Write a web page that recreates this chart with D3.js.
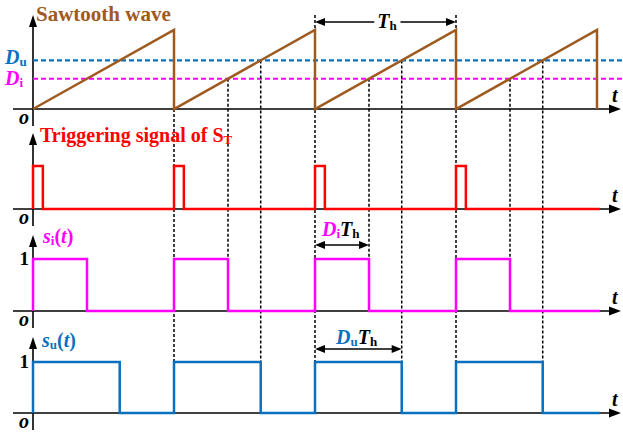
<!DOCTYPE html>
<html lang="en">
<head>
<meta charset="utf-8">
<title>Sawtooth PWM timing</title>
<script src="https://cdn.jsdelivr.net/npm/d3@7"></script>
<style>
  body { margin: 0; background: #fff; }
  text { font-family: "Liberation Serif", "Times New Roman", serif; font-weight: bold; }
</style>
</head>
<body>
<div id="vis"></div>
<script>
// data (time in units of the period Th)
var periodStarts = [0, 1, 2, 3];
var tEnd = 4.02;
var dutyI = 0.383;
var dutyU = 0.615;
var trigWidth = 0.07;
var sawT = [0, 1, 1, 2, 2, 3, 3, 4, 4];
var sawV = [0, 1, 0, 1, 0, 1, 0, 1, 0];

var brown = "#9E5A1F", blue = "#0A70BE", magenta = "#FF00FF", red = "#FF0000";

var svg = d3.select("#vis").append("svg").attr("width", 623).attr("height", 436)
  .attr("font-family", "Liberation Serif, serif");

var x = d3.scaleLinear().domain([0, 4]).range([33, 597]);

// one panel per signal: baseline, level 1, arrow tip
var panels = [
  { y0: 109, y1: 30, top: 15 },
  { y0: 209, y1: 166, top: 133 },
  { y0: 311, y1: 259, top: 235 },
  { y0: 413, y1: 362, top: 337 }
];
panels.forEach(function(p) {
  p.y = d3.scaleLinear().domain([0, 1]).range([p.y0, p.y1]);
});

var line = function(p) {
  return d3.line().x(function(d) { return x(d[0]); }).y(function(d) { return p.y(d[1]); });
};

function stepPoints(duty) {
  var pts = [[0, 0]];
  periodStarts.forEach(function(s) {
    pts.push([s, 0], [s, 1], [s + duty, 1], [s + duty, 0]);
  });
  pts.push([tEnd, 0]);
  return pts;
}

// axes
panels.forEach(function(p) {
  svg.append("line").attr("x1", 13).attr("x2", 612).attr("y1", p.y0).attr("y2", p.y0)
    .attr("stroke", "#000").attr("stroke-width", 1.6);
  svg.append("path").attr("d", "M621," + p.y0 + " L609," + (p.y0 - 4.5) + " L609," + (p.y0 + 4.5) + "Z")
    .attr("fill", "#000");
  svg.append("line").attr("x1", x(0)).attr("x2", x(0)).attr("y1", p.top + 8).attr("y2", p.y0 + 17)
    .attr("stroke", "#000").attr("stroke-width", 1.6);
  svg.append("path").attr("d", "M" + x(0) + "," + p.top + " L" + (x(0) - 4) + "," + (p.top + 12) + " L" + (x(0) + 4) + "," + (p.top + 12) + "Z")
    .attr("fill", "#000");
  svg.append("text").attr("x", 612).attr("y", p.y0 - 7).attr("font-size", 20).attr("font-style", "italic").text("t");
  svg.append("text").attr("x", 19).attr("y", p.y0 + 15).attr("font-size", 20).attr("font-style", "italic").text("o");
});
[2, 3].forEach(function(i) {
  svg.append("text").attr("x", 29).attr("y", panels[i].y1 + 6).attr("text-anchor", "end")
    .attr("font-size", 19).text("1");
});

// threshold levels
var p0 = panels[0];
[[dutyU, blue], [dutyI, magenta]].forEach(function(l) {
  svg.append("line").attr("x1", x(0)).attr("x2", 623).attr("y1", p0.y(l[0])).attr("y2", p0.y(l[0]))
    .attr("stroke", l[1]).attr("stroke-width", 2.2).attr("stroke-dasharray", "5,3");
});

// dotted guides
var bottom = panels[3].y1;
var guide = function(t, yTop, yBot) {
  svg.append("line").attr("x1", x(t)).attr("x2", x(t)).attr("y1", yTop).attr("y2", yBot)
    .attr("stroke", "#000").attr("stroke-width", 1.5).attr("stroke-dasharray", "3,2");
};
periodStarts.slice(1).forEach(function(s, i) {
  guide(s, i === 0 ? p0.y0 : 15, bottom);
  guide(s + dutyI, p0.y(dutyI), panels[2].y1);
  guide(s + dutyU, p0.y(dutyU), bottom);
});

// signals
svg.append("path").attr("d", line(p0)(sawT.map(function(t, i) { return [t, sawV[i]]; })))
  .attr("fill", "none").attr("stroke", brown).attr("stroke-width", 2.5);

var trig = [[0, 0]];
periodStarts.forEach(function(s) { trig.push([s, 0], [s, 1], [s + trigWidth, 1], [s + trigWidth, 0]); });
trig.push([tEnd, 0]);
svg.append("path").attr("d", line(panels[1])(trig))
  .attr("fill", "none").attr("stroke", red).attr("stroke-width", 2.5);
svg.append("path").attr("d", line(panels[2])(stepPoints(dutyI)))
  .attr("fill", "none").attr("stroke", magenta).attr("stroke-width", 2.5);
svg.append("path").attr("d", line(panels[3])(stepPoints(dutyU)))
  .attr("fill", "none").attr("stroke", blue).attr("stroke-width", 2.5);

// double arrows
function dblArrow(x1, x2, y) {
  svg.append("line").attr("x1", x1 + 6).attr("x2", x2 - 6).attr("y1", y).attr("y2", y)
    .attr("stroke", "#000").attr("stroke-width", 1.5);
  svg.append("path").attr("d", "M" + x1 + "," + y + " l10,-4 l0,8Z").attr("fill", "#000");
  svg.append("path").attr("d", "M" + x2 + "," + y + " l-10,-4 l0,8Z").attr("fill", "#000");
}
dblArrow(x(2), x(3), 22);
dblArrow(x(2), x(2 + dutyI), 245);
dblArrow(x(2), x(2 + dutyU), 349);

// labels
function label(xp, yp, parts, anchor) {
  var t = svg.append("text").attr("x", xp).attr("y", yp).attr("text-anchor", anchor || "start");
  parts.forEach(function(q) {
    var s = t.append("tspan").text(q.text).attr("fill", q.color || "#000")
      .attr("font-size", q.sub ? 13 : (q.size || 20)).attr("font-style", q.italic ? "italic" : "normal");
    if (q.sub) s.attr("dy", 2);
    if (q.up) s.attr("dy", -2);
  });
  return t;
}
label(36, 21, [{ text: "Sawtooth wave", color: brown, size: 21 }]);
label(40, 142, [{ text: "Triggering signal of S", color: red, size: 20 }, { text: "T", color: red, sub: true }]);
label(5, 64, [{ text: "D", color: blue, italic: true }, { text: "u", color: blue, sub: true }]);
label(5, 85, [{ text: "D", color: magenta, italic: true }, { text: "i", color: magenta, sub: true }]);
label(43, 243, [{ text: "s", color: magenta, italic: true }, { text: "i", color: magenta, sub: true },
  { text: "(", color: magenta, up: true }, { text: "t", color: magenta, italic: true }, { text: ")", color: magenta }]);
label(42, 347, [{ text: "s", color: blue, italic: true }, { text: "u", color: blue, sub: true },
  { text: "(", color: blue, up: true }, { text: "t", color: blue, italic: true }, { text: ")", color: blue }]);

var th = label(387, 28, [{ text: "T", italic: true }, { text: "h", sub: true }], "middle");
var bb = th.node().getBBox();
svg.insert("rect", function() { return th.node(); })
  .attr("x", bb.x - 3).attr("y", bb.y).attr("width", bb.width + 6).attr("height", bb.height).attr("fill", "#fff");

label(322, 236, [{ text: "D", color: magenta, italic: true }, { text: "i", color: magenta, sub: true },
  { text: "T", italic: true, up: true }, { text: "h", sub: true }]);
label(336, 344, [{ text: "D", color: blue, italic: true }, { text: "u", color: blue, sub: true },
  { text: "T", italic: true, up: true }, { text: "h", sub: true }]);
</script>
</body>
</html>
